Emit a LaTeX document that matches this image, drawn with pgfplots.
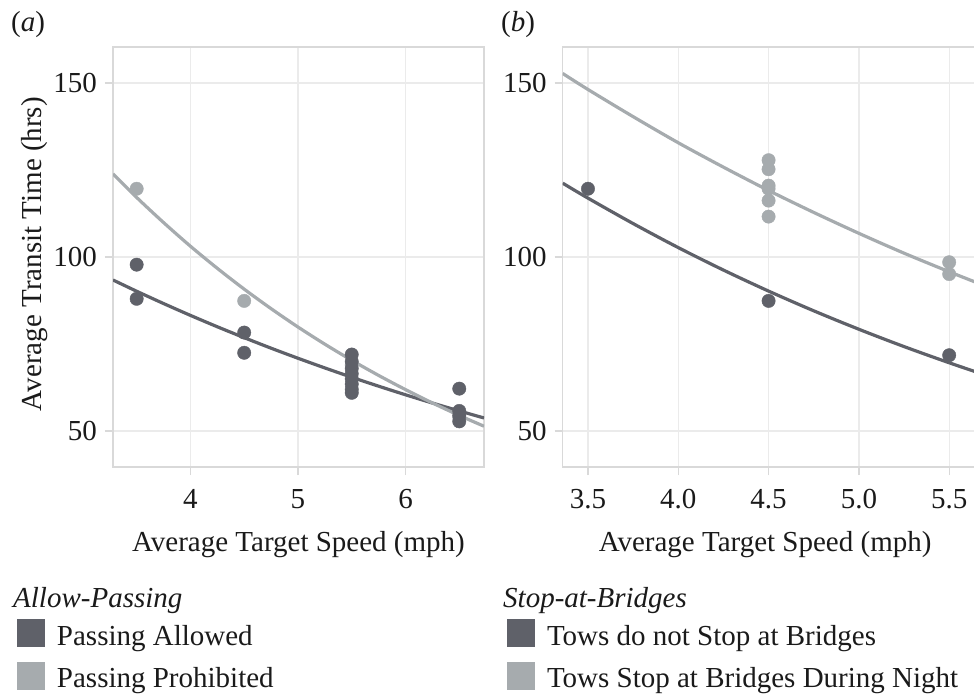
\documentclass[border=0pt]{standalone}
\usepackage{pgfplots}
\pgfplotsset{compat=1.18}
\usepackage{fontspec}
\setmainfont{Liberation Serif}
\definecolor{darkc}{HTML}{5F6169}
\definecolor{lightc}{HTML}{A6ABAE}
\definecolor{gridc}{HTML}{EBEBEB}
\definecolor{axisc}{HTML}{D9D9D9}
\definecolor{txt}{HTML}{1A1A1A}
\newcommand{\bigf}{\fontsize{29}{34}\selectfont}
\pgfplotsset{
  panel/.style={
    scale only axis, anchor=south west,
    height=420pt, ymin=39.7, ymax=160.3, ytick={50,100,150},
    axis line style={axisc, line width=1.3pt},
    grid=major, major grid style={gridc, line width=1.3pt},
    tick style={axisc, line width=1.3pt},
    tick align=outside, major tick length=8pt,
    xtick pos=left, ytick pos=left,
    tick label style={font=\bigf, text=txt, inner sep=0pt},
    /pgf/number format/assume math mode=true,
    xticklabel style={anchor=north, yshift=-14pt},
    yticklabel style={anchor=east, xshift=-8pt},
    xlabel style={font=\bigf, text=txt, anchor=base, inner sep=0pt},
    ylabel style={font=\bigf, text=txt, anchor=base, inner sep=0pt},
    legend style={draw=none, fill=none, inner sep=0pt, outer sep=0pt,
      font=\bigf, text=txt, row sep=14.6pt, column sep=12pt,
      nodes={inner sep=0pt}, anchor=north west},
    legend cell align=left,
    legend image code/.code={\fill[##1] (0pt,-11pt) rectangle (28pt,17pt);},
    dots/.style={only marks, mark=*, mark size=6.7pt, forget plot},
    fit/.style={no marks, line width=3.2pt, smooth, forget plot},
  }
}
\begin{document}
\begin{tikzpicture}
% ---------------- panel (a) ----------------
\begin{axis}[panel, at={(113pt,-467pt)}, width=371pt,
  xmin=3.28, xmax=6.73, xtick={4,5,6},
  xlabel={Average Target Speed (mph)},
  xlabel style={at={(axis description cs:0.5,0)}, yshift=-84pt},
  ylabel={Average Transit Time (hrs)},
  ylabel style={at={(axis description cs:-0.194,0.507)}},
  legend style={at={(axis description cs:-0.2588,-0.3619)}}]
\addplot[dots, color=lightc, mark options={fill=lightc, draw=lightc}] coordinates {
 (3.5,119.6) (4.5,87.4) (5.5,69) (6.5,54)};
\addplot[dots, color=darkc, mark options={fill=darkc, draw=darkc}] coordinates {
 (3.5,97.8) (3.5,88) (4.5,78.3) (4.5,72.5)
 (5.5,72) (5.5,70) (5.5,68) (5.5,66.5) (5.5,65) (5.5,63.5) (5.5,62) (5.5,61)
 (6.5,62.2) (6.5,55.8) (6.5,54.5) (6.5,52.8)};
\addplot[fit, darkc] coordinates {
 (3.28,93.40) (3.5,90.17) (3.75,86.64) (4.0,83.24) (4.25,79.97) (4.5,76.84)
 (4.75,73.82) (5.0,70.93) (5.25,68.15) (5.5,65.47) (5.75,62.91) (6.0,60.44)
 (6.25,58.07) (6.5,55.80) (6.73,53.78)};
\addplot[fit, lightc] coordinates {
 (3.28,123.9) (3.5,117.1) (3.75,109.9) (4.0,103.1) (4.25,96.75) (4.5,90.77)
 (4.75,85.17) (5.0,79.90) (5.25,74.97) (5.5,70.34) (5.75,66.00) (6.0,61.93)
 (6.25,58.10) (6.5,54.51) (6.73,51.41)};
\addlegendimage{fill=darkc, draw=none}
\addlegendentry{Passing Allowed}
\addlegendimage{fill=lightc, draw=none}
\addlegendentry{Passing Prohibited}
\end{axis}
% ---------------- panel (b) ----------------
\begin{axis}[panel, at={(562.7pt,-467pt)}, width=422.6pt,
  xmin=3.36, xmax=5.7, xtick={3.5,4,4.5,5,5.5},
  xticklabel style={/pgf/number format/.cd, fixed, fixed zerofill, precision=1},
  xlabel={Average Target Speed (mph)},
  xlabel style={at={(axis description cs:0.479,0)}, yshift=-84pt},
  legend style={at={(axis description cs:-0.1318,-0.3619)}}]
\addplot[dots, color=darkc, mark options={fill=darkc, draw=darkc}] coordinates {
 (3.5,119.6) (4.5,87.4) (5.5,71.8)};
\addplot[dots, color=lightc, mark options={fill=lightc, draw=lightc}] coordinates {
 (4.5,127.8) (4.5,125.2) (4.5,120.5) (4.5,119.6) (4.5,116.2) (4.5,111.6)
 (5.5,98.5) (5.5,95.1)};
\addplot[fit, darkc] coordinates {
 (3.36,121.2) (3.5,116.9) (3.75,109.6) (4.0,102.7) (4.25,96.25) (4.5,90.21)
 (4.75,84.55) (5.0,79.25) (5.25,74.28) (5.5,69.63) (5.7,66.11)};
\addplot[fit, lightc] coordinates {
 (3.36,152.7) (3.5,148.1) (3.75,140.3) (4.0,132.8) (4.25,125.8) (4.5,119.1)
 (4.75,112.8) (5.0,106.8) (5.25,101.1) (5.5,95.77) (5.7,91.68)};
\addlegendimage{fill=darkc, draw=none}
\addlegendentry{Tows do not Stop at Bridges}
\addlegendimage{fill=lightc, draw=none}
\addlegendentry{Tows Stop at Bridges During Night}
\end{axis}
% panel letters and legend titles
\node[anchor=base west, inner sep=0pt, font=\bigf, text=txt] at (11pt,-31pt) {(\textit{a})};
\node[anchor=base west, inner sep=0pt, font=\bigf, text=txt] at (501pt,-31pt) {(\textit{b})};
\node[anchor=base west, inner sep=0pt, font=\bigf\itshape, text=txt] at (13pt,-607pt) {Allow-Passing};
\node[anchor=base west, inner sep=0pt, font=\bigf\itshape, text=txt] at (503pt,-607pt) {Stop-at-Bridges};
\pgfresetboundingbox
\useasboundingbox (0pt,-696pt) rectangle (974pt,0pt);
\end{tikzpicture}
\end{document}
